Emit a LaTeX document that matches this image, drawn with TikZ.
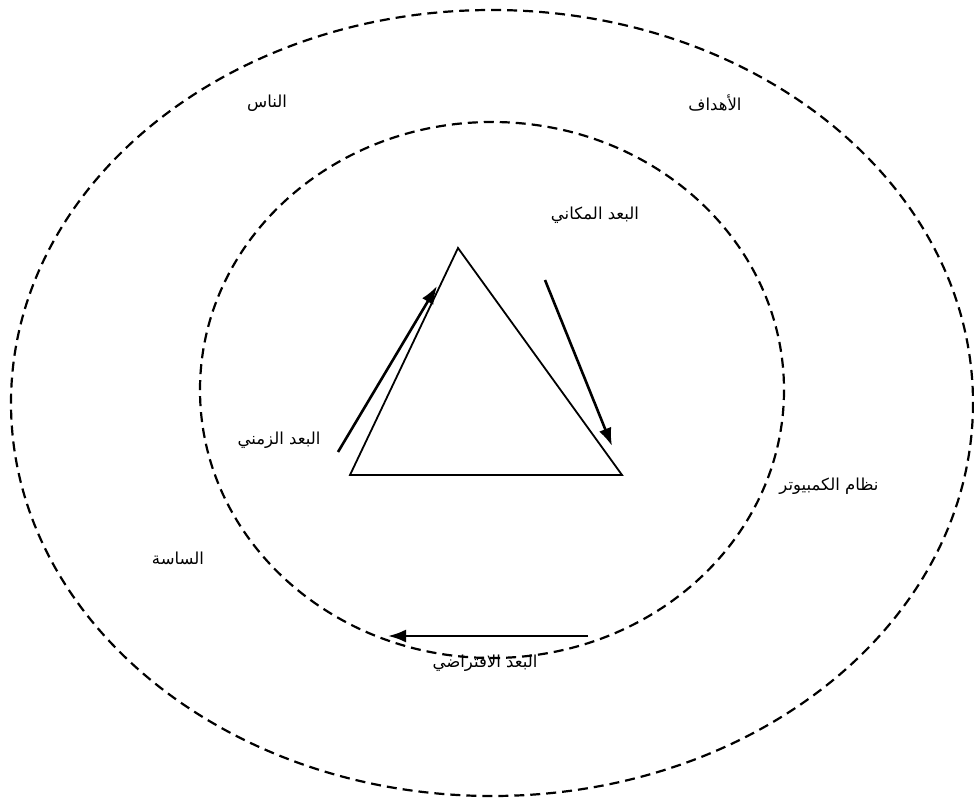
\documentclass[tikz,border=0pt]{standalone}
\usepackage{fontspec}
\usetikzlibrary{arrows.meta}
\TeXXeTstate=1
\newfontfamily\arabicfont[Script=Arabic]{DejaVu Sans}
\begin{document}
\begin{tikzpicture}[x=1pt,y=-1pt,
  dashring/.style={draw=black,line width=2.2pt,dash pattern=on 10pt off 6pt},
  arr/.style={line width=2.6pt,-{Latex[length=18pt,width=13pt]}},
  lbl/.style={font=\arabicfont\fontsize{16.5}{19}\selectfont,inner sep=1pt}]
\useasboundingbox (0,0) rectangle (974,802);
\fill[white] (0,0) rectangle (974,802);
% rings
\draw[dashring] (492,403) ellipse [x radius=481, y radius=393];
\draw[dashring] (492,390) ellipse [x radius=292, y radius=268];
% triangle
\coordinate (apex) at (458,248);
\coordinate (bl) at (350,475);
\coordinate (br) at (622,475);
\draw[line width=1.8pt] (apex) -- (bl) -- (br) -- cycle;
% arrows
\coordinate (a1s) at (338,452);
\coordinate (a1e) at (437,286);
\coordinate (a2s) at (545,280);
\coordinate (a2e) at (612,446);
\coordinate (a3s) at (588,636);
\coordinate (a3e) at (388,636);
\draw[arr] (a1s) -- (a1e);
\draw[arr] (a2s) -- (a2e);
\draw[arr] (a3s) -- (a3e);
% labels
\node[lbl] (nas) at (267,103) {\beginR الناس\endR};
\node[lbl] (ahdaf) at (715,103) {\beginR الأهداف\endR};
\node[lbl] (makani) at (595,215) {\beginR البعد المكاني\endR};
\node[lbl] (zamani) at (279,440) {\beginR البعد الزمني\endR};
\node[lbl] (computer) at (829,486) {\beginR نظام الكمبيوتر\endR};
\node[lbl] (sasa) at (178,558) {\beginR الساسة\endR};
\node[lbl] (iftiradi) at (485,663) {\beginR البعد الافتراضي\endR};
\end{tikzpicture}
\end{document}
